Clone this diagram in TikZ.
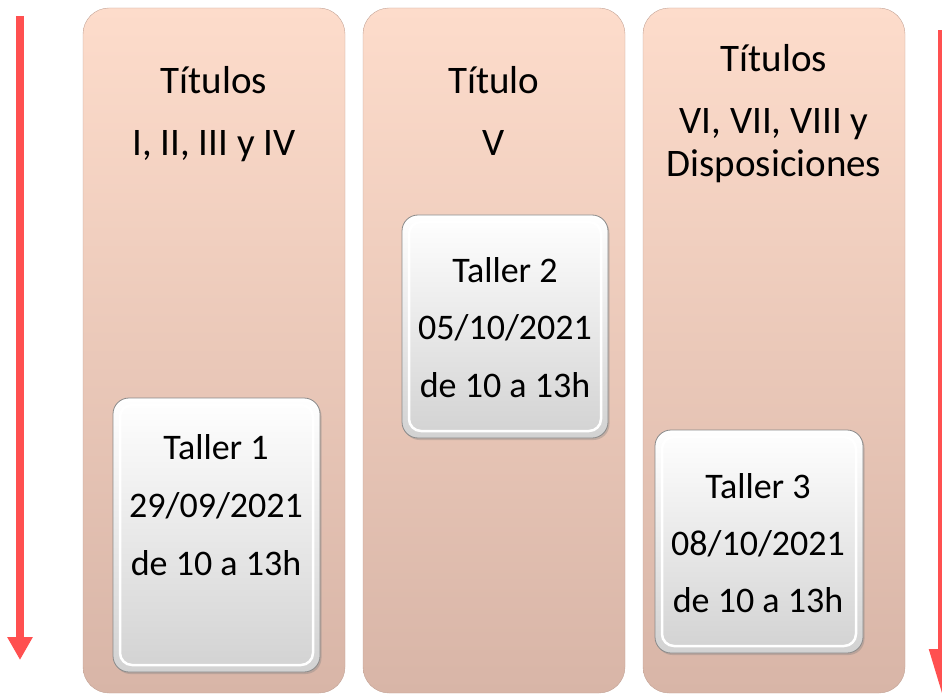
\documentclass[tikz,border=0pt]{standalone}
\usepackage{fontspec}
\setmainfont{Carlito}
\usetikzlibrary{arrows.meta,shadows}
\definecolor{arrowred}{HTML}{FF5050}
\definecolor{coltop}{HTML}{FDDCCB}
\definecolor{colbot}{HTML}{D8B5A7}
\definecolor{boxbot}{HTML}{D2D2D2}
\definecolor{boxedge}{HTML}{8A8A8A}
\tikzset{
  colbox/.style={rectangle, rounded corners=26pt, minimum width=262pt, minimum height=685pt,
    top color=coltop, bottom color=colbot, draw=colbot!90!black, line width=0.4pt, inner sep=0pt},
  tallerbox/.style={rectangle, rounded corners=16pt, inner sep=0pt,
    top color=white, bottom color=boxbot, draw=boxedge, line width=0.8pt,
    drop shadow={shadow xshift=1.5pt, shadow yshift=-2pt, opacity=0.35}},
  innerbev/.style={rectangle, rounded corners=12pt, inner sep=0pt, draw=white, line width=2.5pt},
  titletext/.style={font=\fontsize{39}{47}\selectfont, inner sep=0pt, anchor=base},
  boxtext/.style={font=\fontsize{36}{43}\selectfont, inner sep=0pt, anchor=base},
  timearrow/.style={draw=arrowred, line width=8pt, -{Triangle[width=24pt,length=23pt]}},
}
\begin{document}
\begin{tikzpicture}[x=1pt,y=-1pt]
\useasboundingbox (0,0) rectangle (942,695);
% columns
\node[colbox] (c1) at (214,350.5) {};
\node[colbox] (c2) at (494,350.5) {};
\node[colbox] (c3) at (774,350.5) {};
% titles
\node[titletext] (t1a) at (214,94) {Títulos};
\node[titletext] (t1b) at (214,156) {I, II, III y IV};
\node[titletext] (t2a) at (494,94) {Título};
\node[titletext] (t2b) at (494,156) {V};
\node[titletext] (t3a) at (774,72) {Títulos};
\node[titletext] (t3b) at (774,134) {VI, VII, VIII y};
\node[titletext] (t3c) at (774,177) {Disposiciones};
% taller boxes
\node[tallerbox, minimum width=207pt, minimum height=274pt] (b1) at (216.5,535) {};
\node[innerbev, minimum width=193pt, minimum height=260pt] (b1i) at (216.5,535) {};
\node[tallerbox, minimum width=206pt, minimum height=223pt] (b2) at (505,326.5) {};
\node[innerbev, minimum width=192pt, minimum height=209pt] (b2i) at (505,326.5) {};
\node[tallerbox, minimum width=208pt, minimum height=223pt] (b3) at (759,541.5) {};
\node[innerbev, minimum width=194pt, minimum height=209pt] (b3i) at (759,541.5) {};
% box texts
\node[boxtext] (x1a) at (216,459) {Taller 1};
\node[boxtext] (x1b) at (216,517) {29/09/2021};
\node[boxtext] (x1c) at (216,575) {de 10 a 13h};
\node[boxtext] (x2a) at (505,282) {Taller 2};
\node[boxtext] (x2b) at (505,339) {05/10/2021};
\node[boxtext] (x2c) at (505,397) {de 10 a 13h};
\node[boxtext] (x3a) at (758,498) {Taller 3};
\node[boxtext] (x3b) at (758,555) {08/10/2021};
\node[boxtext] (x3c) at (758,612) {de 10 a 13h};
% arrows
\coordinate (la) at (20,16);
\coordinate (lb) at (20,660);
\coordinate (ra) at (942,30);
\coordinate (rb) at (942,695);
\draw[timearrow] (la) -- (lb);
\draw[draw=arrowred, line width=8pt, -{Triangle[width=24pt,length=46pt]}] (ra) -- (rb);
\end{tikzpicture}
\end{document}
